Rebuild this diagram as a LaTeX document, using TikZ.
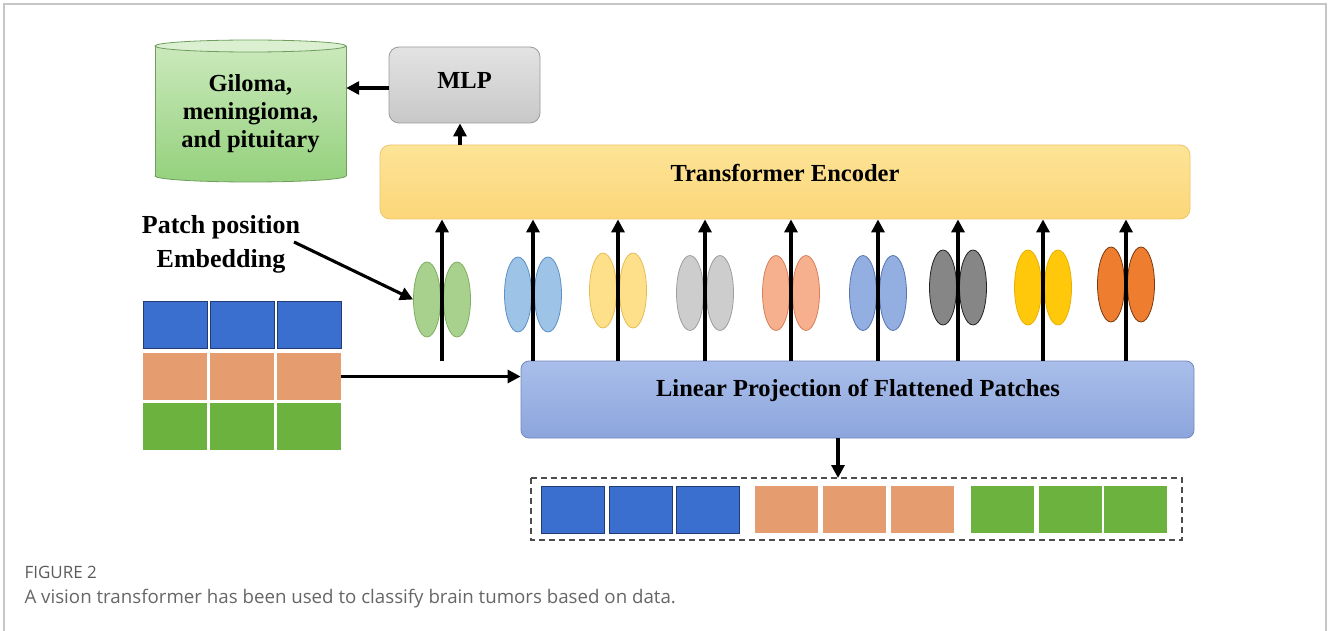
\documentclass[tikz,border=0pt]{standalone}
\usepackage{fontspec}
\setmainfont{Liberation Serif}
\newfontfamily\capfont{Open Sans}
\usepackage{xcolor}
\usetikzlibrary{arrows.meta,calc,positioning,shapes.geometric}
\definecolor{encyellow}{HTML}{FDE497}
\definecolor{encyellowdk}{HTML}{FCD679}
\definecolor{encedge}{HTML}{EDC66A}
\definecolor{linblue}{HTML}{A9BEEA}
\definecolor{linbluedk}{HTML}{8CA5DC}
\definecolor{linedge}{HTML}{6F88BF}
\definecolor{mlpgray}{HTML}{E3E3E3}
\definecolor{mlpgraydk}{HTML}{C8C8C8}
\definecolor{mlpedge}{HTML}{9A9A9A}
\definecolor{cylgreen}{HTML}{CBE9BC}
\definecolor{cylgreendk}{HTML}{96D27F}
\definecolor{cyledge}{HTML}{6F9E5E}
\definecolor{patchblue}{HTML}{3A6ECF}
\definecolor{patchorange}{HTML}{E59C6E}
\definecolor{patchgreen}{HTML}{6CB23E}
\definecolor{framegray}{HTML}{C6C6C6}
\definecolor{capgray}{HTML}{666666}
\tikzset{
  flow/.style={-{Triangle[length=13pt,width=13pt]},line width=3.1pt,black},
  roundbox/.style={rounded corners=10pt,line width=0.8pt,inner sep=0pt},
  bigtxt/.style={font=\fontsize{24.5}{28}\selectfont\bfseries,align=center},
  token/.style={ellipse,minimum width=27pt,minimum height=75pt,inner sep=0pt,line width=0.8pt},
  cell/.style={minimum width=64pt,minimum height=47pt,inner sep=0pt,line width=0.8pt}
}
\begin{document}
\begin{tikzpicture}[x=1pt,y=-1pt]
  \useasboundingbox (0,0) rectangle (1328,631);
  % frame
  \draw[framegray,line width=1.4pt] (4,631) -- (4,4) -- (1326,4) -- (1326,631);
  % output classes as a cylinder
  \fill[cylgreendk,draw=cyledge,line width=0.8pt] (250.5,176) ellipse [x radius=95.5,y radius=6];
  \fill[top color=cylgreen,bottom color=cylgreendk] (155,46) rectangle (346,176);
  \draw[cyledge,line width=0.8pt] (155,46) -- (155,176) (346,46) -- (346,176);
  \fill[cylgreen!70!white,draw=cyledge,line width=0.8pt] (250.5,46) ellipse [x radius=95.5,y radius=6];
  \node[minimum width=191pt,minimum height=130pt] (classes) at (250.5,111) {};
  \node[bigtxt,anchor=base] (classtxt) at (250.5,148) {Giloma,\\meningioma,\\and pituitary};
  % boxes
  \node[roundbox,draw=mlpedge,top color=mlpgray,bottom color=mlpgraydk,minimum width=151pt,minimum height=76pt] (mlp) at (464.5,85) {};
  \node[bigtxt] (mlptxt) at (464.5,80) {MLP};
  \node[roundbox,draw=encedge,top color=encyellow,bottom color=encyellowdk,minimum width=810pt,minimum height=74pt] (enc) at (785,182) {};
  \node[bigtxt] (enctxt) at (785,173) {Transformer Encoder};
  \node[roundbox,rounded corners=8pt,draw=linedge,top color=linblue,bottom color=linbluedk,minimum width=673pt,minimum height=77pt] (lin) at (857.5,399.5) {};
  \node[bigtxt] (lintxt) at (858,390) {Linear Projection of Flattened Patches};
  \draw[flow] (mlp.west |- 0,88) -- (classes.east |- 0,88);
  \draw[flow] (enc.north -| 460,0) -- (mlp.south -| 460,0);
  % position embedding tokens
  \foreach \i/\x/\y/\fc/\dc in {1/442/299.5/A9D18E/7FAE62, 2/533/294.5/9DC3E6/5E8FC6, 3/618/290.5/FFE08A/E3BE55,
      4/705/293/CDCDCD/9E9E9E, 5/791/293/F6B08E/D5825C, 6/878/293/93AEE0/5875B0,
      7/958/287.5/868686/222222, 8/1043/287.5/FFC80A/E9B000, 9/1126/284.5/EE7D2F/7A3A10}{
    \definecolor{tokfill}{HTML}{\fc}
    \definecolor{tokedge}{HTML}{\dc}
    \node[token,fill=tokfill,draw=tokedge] (tl\i) at (\x-15,\y) {};
    \node[token,fill=tokfill,draw=tokedge] (tr\i) at (\x+15,\y) {};
    \coordinate (b\i) at (\x,361);
    \draw[flow] (b\i) -- (b\i |- enc.south);
  }
  \node[font=\fontsize{26}{34}\selectfont\bfseries,align=center] (pos) at (221,244) {Patch position\\Embedding};
  \coordinate (posfrom) at (294,242);
  \draw[flow] (posfrom) -- (tl1.west);
  % input patch grid
  \foreach \r/\y/\c in {1/325/patchblue, 2/376.5/patchorange, 3/426.5/patchgreen}{
    \foreach \k/\x in {1/175, 2/242, 3/309}{
      \ifnum\r=1
        \node[cell,fill=\c,draw=\c!55!black] (g\r\k) at (\x,\y) {};
      \else
        \node[cell,fill=\c] (g\r\k) at (\x,\y) {};
      \fi
    }
  }
  \draw[flow] (g23.east) -- (lin.west |- g23.east);
  % flattened sequence
  \draw[dashed,dash pattern=on 6pt off 4pt,line width=1.3pt,black!70] (531,478) rectangle (1182,540);
  \coordinate (seqtop) at (838,478);
  \draw[flow] (lin.south -| seqtop) -- (seqtop);
  \foreach \k/\x/\c in {1/573/patchblue, 2/640.5/patchblue, 3/708/patchblue,
      4/786.5/patchorange, 5/854.5/patchorange, 6/922.5/patchorange,
      7/1002/patchgreen, 8/1070/patchgreen, 9/1135.5/patchgreen}{
    \ifnum\k<4
      \node[cell,minimum width=63pt,fill=\c,draw=\c!55!black] (s\k) at (\x,509.5) {};
    \else
      \node[cell,minimum width=63pt,fill=\c] (s\k) at (\x,509.5) {};
    \fi
  }
  % caption
  \node[anchor=west,font=\capfont\fontsize{17}{19}\selectfont,text=capgray!90!black] (fig) at (21,572) {FIGURE 2};
  \node[anchor=west,font=\capfont\fontsize{18.7}{21}\selectfont,text=capgray] (cap) at (21,599) {A vision transformer has been used to classify brain tumors based on data.};
\end{tikzpicture}
\end{document}
